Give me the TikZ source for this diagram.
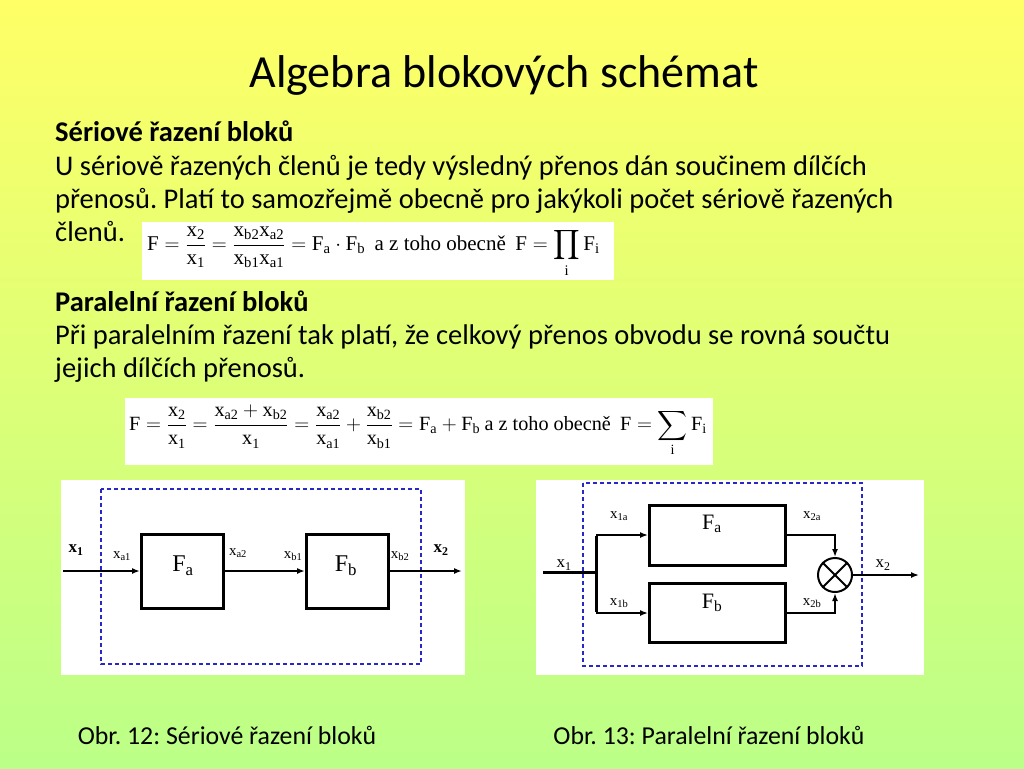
\documentclass[tikz,border=0pt]{standalone}
\usepackage{fontspec}
\usepackage{amsmath}
\setmainfont{Carlito}
\newfontfamily\tnr{Liberation Serif}
\usetikzlibrary{arrows.meta}
\frenchspacing
\newcommand\tx[1]{\text{\tnr #1}}
\newcommand\tb[1]{\text{\tnr\bfseries #1}}
\definecolor{bgtop}{RGB}{255,255,102}
\definecolor{bgbot}{RGB}{187,255,136}
\definecolor{dashblue}{RGB}{40,40,200}
\tikzset{
  body/.style={anchor=base west, inner sep=0pt, font=\fontsize{28.5}{34}\selectfont},
  bodyb/.style={body, font=\fontsize{28.5}{34}\selectfont\bfseries},
  wbox/.style={fill=white, draw=none, anchor=north west, inner sep=0pt},
  blk/.style={draw=black, line width=3pt, fill=white, inner sep=0pt},
  bluedash/.style={draw=dashblue, line width=1.2pt, dash pattern=on 4pt off 3pt},
  arr/.style={line width=1.8pt, -{Latex[length=8pt,width=6pt]}},
  arrthin/.style={line width=1.5pt, -{Latex[length=8pt,width=6pt]}},
  thickline/.style={line width=3pt},
  lbl/.style={inner sep=0pt, font=\fontsize{15}{18}\selectfont},
  biglbl/.style={inner sep=0pt, font=\fontsize{24}{28}\selectfont},
  eqn/.style={anchor=west, inner sep=0pt, font=\fontsize{21}{24}\selectfont},
  captext/.style={anchor=base, inner sep=0pt, font=\fontsize{25.8}{30}\selectfont}
}
\begin{document}
\begin{tikzpicture}[x=1pt,y=-1pt]
\shade[top color=bgtop, bottom color=bgbot] (0,0) rectangle (1024,768);
\useasboundingbox (0,0) rectangle (1024,768);

% title
\node[anchor=base, inner sep=0pt, font=\fontsize{46}{54}\selectfont] (title) at (504,87) {Algebra blokových schémat};

% text
\node[bodyb] (h1) at (55,141) {Sériové řazení bloků};
\node[body] (l1) at (55,175) {U sériově řazených členů je tedy výsledný přenos dán součinem dílčích};
\node[body] (l2) at (55,208) {přenosů. Platí to samozřejmě obecně pro jakýkoli počet sériově řazených};
\node[body] (l3) at (55,241) {členů.};
\node[bodyb] (h2) at (55,311) {Paralelní řazení bloků};
\node[body] (l4) at (55,344) {Při paralelním řazení tak platí, že celkový přenos obvodu se rovná součtu};
\node[body] (l5) at (55,377) {jejich dílčích přenosů.};

% formula 1
\node[wbox, minimum width=472pt, minimum height=58pt] (fb1) at (142,222) {};
\node[eqn] (eq1) at (147,252) {$\displaystyle \tx{F}=\frac{\tx{x}_{\tx{2}}}{\tx{x}_{\tx{1}}}=\frac{\tx{x}_{\tx{b2}}\tx{x}_{\tx{a2}}}{\tx{x}_{\tx{b1}}\tx{x}_{\tx{a1}}}=\tx{F}_{\tx{a}}\cdot\tx{F}_{\tx{b}}\ \ \tx{a z toho obecně}\ \ \tx{F}=\prod_{\tx{i}}\tx{F}_{\tx{i}}$};

% formula 2
\node[wbox, minimum width=588pt, minimum height=67pt] (fb2) at (125,398) {};
\node[eqn, font=\fontsize{20.2}{24}\selectfont] (eq2) at (129,431) {$\displaystyle \tx{F}=\frac{\tx{x}_{\tx{2}}}{\tx{x}_{\tx{1}}}=\frac{\tx{x}_{\tx{a2}}+\tx{x}_{\tx{b2}}}{\tx{x}_{\tx{1}}}=\frac{\tx{x}_{\tx{a2}}}{\tx{x}_{\tx{a1}}}+\frac{\tx{x}_{\tx{b2}}}{\tx{x}_{\tx{b1}}}=\tx{F}_{\tx{a}}+\tx{F}_{\tx{b}}\ \tx{a z toho obecně}\ \ \tx{F}=\sum_{\tx{i}}\tx{F}_{\tx{i}}$};

% ---------- serial diagram
\node[wbox, minimum width=404pt, minimum height=195pt] (d1) at (61,480) {};
\draw[bluedash] (101,489) rectangle (421,664);
\node[blk, minimum width=82pt, minimum height=74pt] (Fa) at (182.5,571) {};
\node[blk, minimum width=82pt, minimum height=74pt] (Fb) at (347.5,571) {};
\coordinate (in1) at (63,571);
\coordinate (out1) at (462,571);
\draw[arr] (in1) -- (Fa.west);
\draw[arr] (Fa.east) -- (Fb.west);
\draw[arr] (Fb.east) -- (out1);
\node[biglbl] (tFa) at (183,566) {$\tx{F}_{\tx{a}}$};
\node[biglbl] (tFb) at (346,566) {$\tx{F}_{\tx{b}}$};
\node[lbl, font=\fontsize{17}{20}\selectfont] (sx1) at (76,550) {$\tb{x}_{\tb{1}}$};
\node[lbl] (sxa1) at (122,556) {$\tx{x}_{\tx{a1}}$};
\node[lbl] (sxa2) at (238,553) {$\tx{x}_{\tx{a2}}$};
\node[lbl] (sxb1) at (293,556) {$\tx{x}_{\tx{b1}}$};
\node[lbl] (sxb2) at (400,556) {$\tx{x}_{\tx{b2}}$};
\node[lbl, font=\fontsize{17}{20}\selectfont] (sx2) at (441,550) {$\tb{x}_{\tb{2}}$};

% ---------- parallel diagram
\node[wbox, minimum width=388pt, minimum height=195pt] (d2) at (536,480) {};
\draw[bluedash] (583,483) rectangle (862,666);
\node[blk, minimum width=136pt, minimum height=60pt] (Pa) at (717.5,535) {};
\node[blk, minimum width=136pt, minimum height=59pt] (Pb) at (717.5,613) {};
\node[circle, draw=black, line width=2pt, minimum size=34pt, inner sep=0pt, fill=white] (sum) at (835,575) {};
\draw[line width=2pt] (sum.north west) -- (sum.south east);
\draw[line width=2pt] (sum.north east) -- (sum.south west);
\coordinate (in2) at (543,572);
\coordinate (jn) at (596,572);
\coordinate (jt) at (596,535);
\coordinate (jb) at (596,613);
\coordinate (out2) at (919,575);
\draw[thickline] (in2) -- (jn);
\draw[thickline] ([yshift=-1pt]jt) -- ([yshift=1pt]jb);
\draw[arrthin] (jt) -- (Pa.west);
\draw[arrthin] (jb) -- (Pb.west);
\draw[arrthin] (Pa.east) -| (sum.north);
\draw[line width=2.5pt, -{Latex[length=8pt,width=6pt]}] (Pb.east) -| (sum.south);
\draw[arrthin] (sum.east) -- (out2);
\node[biglbl, font=\fontsize{22}{26}\selectfont] (tPa) at (712,524) {$\tx{F}_{\tx{a}}$};
\node[biglbl, font=\fontsize{22}{26}\selectfont] (tPb) at (712,603) {$\tx{F}_{\tx{b}}$};
\node[lbl, font=\fontsize{17}{20}\selectfont] (px1) at (564,565) {$\tx{x}_{\tx{1}}$};
\node[lbl] (px1a) at (619,516) {$\tx{x}_{\tx{1a}}$};
\node[lbl] (px1b) at (619,603) {$\tx{x}_{\tx{1b}}$};
\node[lbl] (px2a) at (812,516) {$\tx{x}_{\tx{2a}}$};
\node[lbl] (px2b) at (812,603) {$\tx{x}_{\tx{2b}}$};
\node[lbl, font=\fontsize{17}{20}\selectfont] (px2) at (883,565) {$\tx{x}_{\tx{2}}$};

% captions
\node[captext] (c1) at (227,744) {Obr. 12: Sériové řazení bloků};
\node[captext] (c2) at (709,744) {Obr. 13: Paralelní řazení bloků};
\end{tikzpicture}
\end{document}
